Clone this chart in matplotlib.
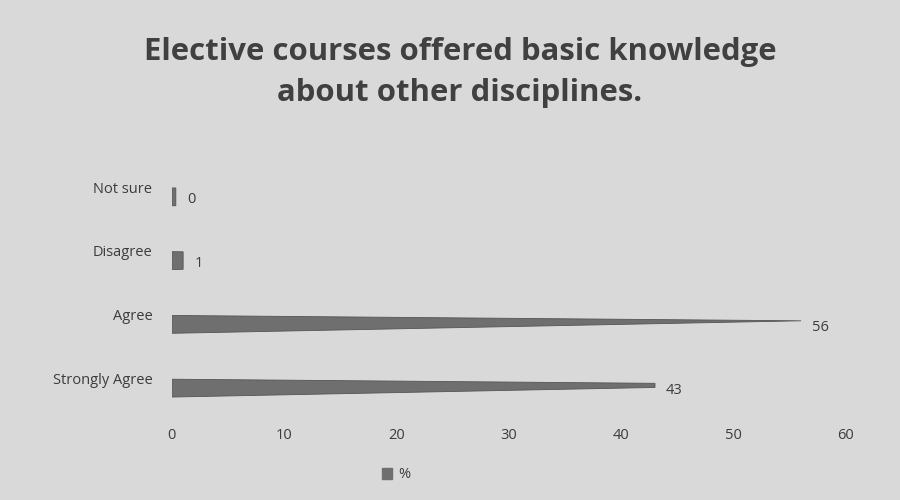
import matplotlib
matplotlib.use('Agg')
import matplotlib.pyplot as plt
from matplotlib.patches import Polygon
from matplotlib.transforms import ScaledTranslation

# data
categories = ['Strongly Agree', 'Agree', 'Disagree', 'Not sure']
percent = [43, 56, 1, 0]
xticks = [0, 10, 20, 30, 40, 50, 60]

bg = '#d9d9d9'
bar_color = '#6f6f6f'
text_color = '#3c3c3c'

plt.rcParams['font.family'] = ['Open Sans', 'DejaVu Sans']

fig = plt.figure(figsize=(9, 5), dpi=100, facecolor=bg)
ax = fig.add_axes([0.191, 0.16, 0.749, 0.51], facecolor=bg)

vmax = max(percent)
h = 0.28  # bar thickness in category units
for i, v in enumerate(percent):
    top = i + h / 2
    bot = i - h / 2
    tip = top - 0.3 * h
    w = max(v, 0.35)
    f = min(w / vmax, 1.0)
    pts = [(0, bot), (0, top),
           (w, top - f * (top - tip)),
           (w, bot - f * (bot - tip))]
    ax.add_patch(Polygon(pts, closed=True, facecolor=bar_color,
                         edgecolor='#555555', linewidth=0.6))
    ax.annotate(str(v), xy=(w, i), xytext=(8, -2), textcoords='offset points',
                va='center', ha='left', fontsize=10.5, color=text_color)

ax.set_xlim(0, 60)
ax.set_ylim(-0.5, 3.5)
ax.set_xticks(xticks)
ax.set_xticklabels([str(t) for t in xticks], fontsize=10.5, color=text_color)
ax.set_yticks(range(len(categories)))
ax.set_yticklabels(categories, fontsize=10.5, color=text_color)
ax.tick_params(length=0, axis='x', pad=6)
ax.tick_params(length=0, axis='y', pad=14)
shift = ScaledTranslation(0, 7 / 72, fig.dpi_scale_trans)
for lbl in ax.get_yticklabels():
    lbl.set_transform(lbl.get_transform() + shift)
for s in ax.spines.values():
    s.set_visible(False)

fig.text(0.511, 0.855, 'Elective courses offered basic knowledge\nabout other disciplines.',
         ha='center', va='center', fontsize=22.4, fontweight='bold',
         color='#404040', linespacing=1.5)

# legend
fig.legend(handles=[plt.Rectangle((0, 0), 1, 1, color=bar_color)], labels=['%'],
           loc='center', bbox_to_anchor=(0.44, 0.05), frameon=False,
           fontsize=10.5, handlelength=0.7, handleheight=0.7, handletextpad=0.4,
           labelcolor=text_color)

fig.savefig('out.png', dpi=100, facecolor=bg)
